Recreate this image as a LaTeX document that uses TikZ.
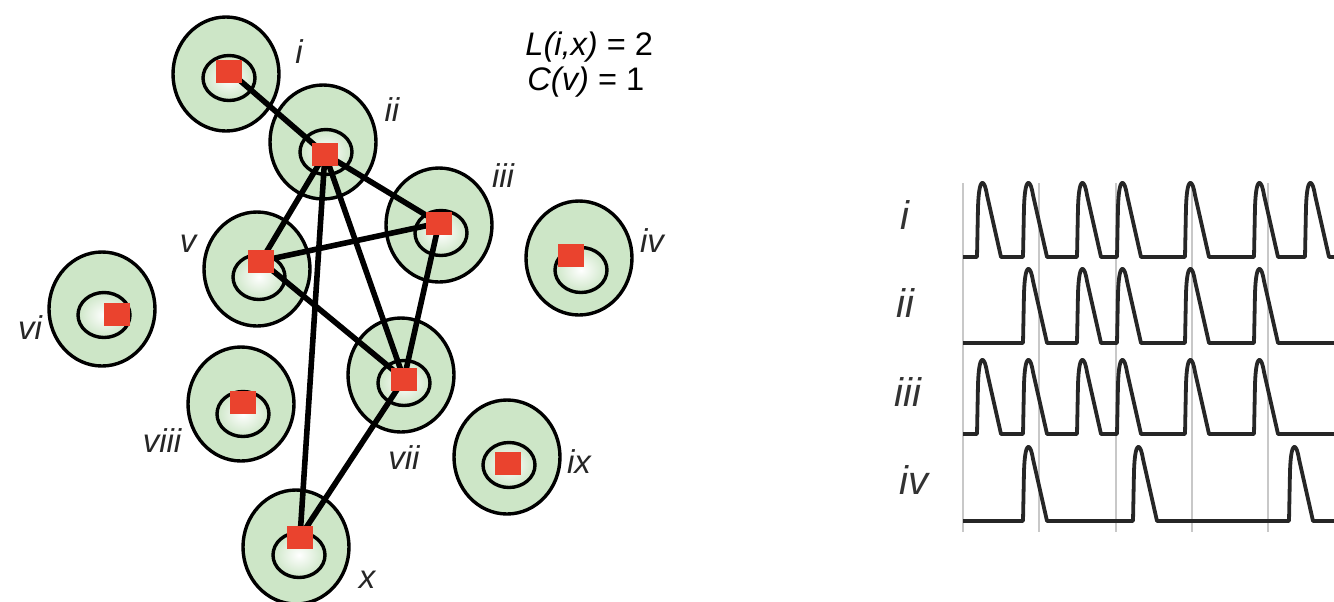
\documentclass[tikz,border=0pt]{standalone}
\usepackage{fontspec}
\setmainfont{Liberation Sans}
\definecolor{cellgreen}{RGB}{205,230,199}
\definecolor{cellred}{RGB}{234,67,46}
\definecolor{gridgray}{RGB}{200,200,200}
\pgfdeclarelayer{bg}
\pgfdeclarelayer{edges}
\pgfsetlayers{bg,edges,main}
\begin{document}
\begin{tikzpicture}[x=0.5pt,y=-0.5pt,
  outercell/.style={draw=black,line width=1.7pt,fill=cellgreen},
  innercell/.style={draw=black,line width=1.7pt,inner color=white,outer color=cellgreen},
  soma/.style={rectangle,fill=cellred,minimum width=13pt,minimum height=11.5pt,inner sep=0pt},
  link/.style={line width=2.8pt,draw=black},
  celllabel/.style={font=\fontsize{16.5pt}{18pt}\selectfont\itshape,text=black!85,inner sep=0pt},
  rowlabel/.style={font=\fontsize{20pt}{22pt}\selectfont\itshape,text=black!80,inner sep=0pt},
  infotext/.style={font=\fontsize{16.3pt}{18pt}\selectfont,anchor=base west,inner sep=0pt},
  trace/.style={line width=1.9pt,draw=black!85,line join=round},
  gridline/.style={line width=0.8pt,draw=gridgray}]
\useasboundingbox (0,0) rectangle (1334,601);

% cells: name / outer x / outer y / inner x / inner y / square x / square y
\foreach \n/\ox/\oy/\ix/\iy/\sx/\sy in {
  i/226/74/229/78/229/71,
  ii/323/142/326/152/325/154,
  iii/439/225/441/233/439/223,
  iv/579/258/581/270/571/255,
  v/257/269/259/277/261/261,
  vi/102/309/104/315/117/314,
  vii/401/375/404/383/404/379,
  viii/241/404/243/414/243/402,
  ix/507/457/509/465/508/463,
  x/296/547/299/555/300/537}{
  \begin{pgfonlayer}{bg}
    \path[outercell] (\ox,\oy) ellipse [x radius=53, y radius=57];
    \path[innercell] (\ix,\iy) ellipse [x radius=26, y radius=22.5];
  \end{pgfonlayer}
  \node[soma] (s-\n) at (\sx,\sy) {};
}

% connections
\begin{pgfonlayer}{edges}
  \foreach \a/\b in {i/ii, ii/iii, ii/v, ii/vii, ii/x, iii/v, iii/vii, v/vii, vii/x}
    \draw[link] (s-\a.center) -- (s-\b.center);
\end{pgfonlayer}

% cell labels
\foreach \n/\lx/\ly in {i/299/52, ii/392/110, iii/503/176, iv/652/241, v/188/244,
  vi/30/328, vii/404/458, viii/162/441, ix/579/462, x/367/580}
  \node[celllabel] (l-\n) at (\lx,\ly) {\n};

% info text
\node[infotext] (info1) at (525,55) {\textit{L(i,x)} = 2};
\node[infotext] (info2) at (527,90) {\textit{C(v)} = 1};

% spike trace grid
\foreach \gx in {963,1039,1116,1192,1268}
  \draw[gridline] (\gx,183) -- (\gx,532);

% spike traces
\foreach \b/\plist in {257/{977,1023,1077,1117,1185,1254,1305},
                       343/{1023,1077,1117,1185,1254},
                       434/{977,1023,1077,1117,1185,1254},
                       521/{1023,1133,1289}}{
  \draw[trace] (963,\b)
    \foreach \p in \plist {
      -- (\p,\b) -- (\p+1,\b-50) .. controls (\p+2,\b-80) and (\p+7,\b-80) .. (\p+10,\b-62) -- (\p+24,\b)
    } -- (1334,\b);
}

% row labels
\node[rowlabel] (r-i) at (905,215) {i};
\node[rowlabel] (r-ii) at (905,303) {ii};
\node[rowlabel] (r-iii) at (908,392) {iii};
\node[rowlabel] (r-iv) at (914,480) {iv};
\end{tikzpicture}
\end{document}
